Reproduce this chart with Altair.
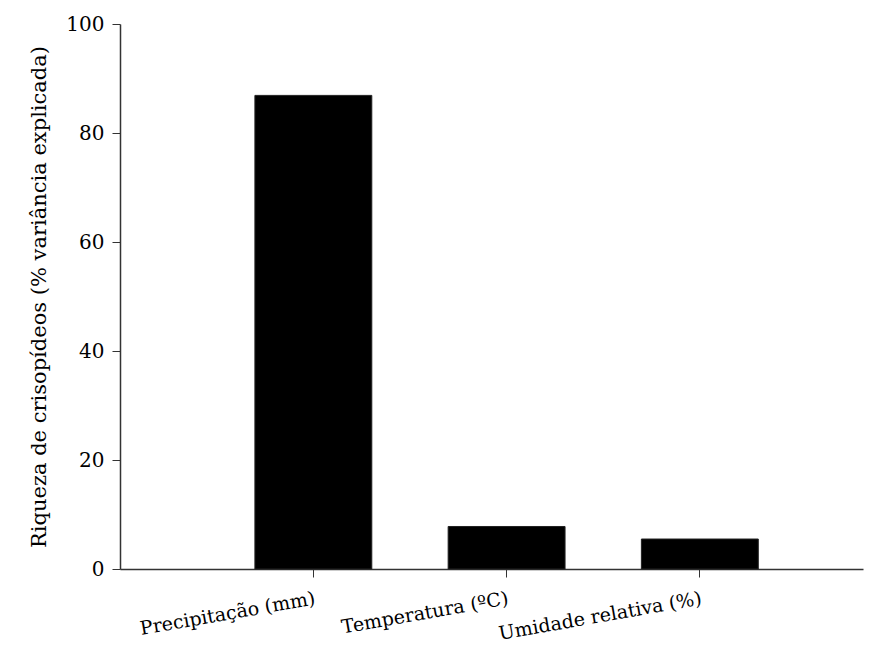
import altair as alt
import pandas as pd

categories = ["Precipitação (mm)", "Temperatura (ºC)", "Umidade relativa (%)"]
values = [86.9, 7.8, 5.5]

df = pd.DataFrame({"cat": categories, "val": values})

FONT = "DejaVu Serif"

chart = alt.Chart(df).mark_bar(color="black", stroke="#222222", strokeWidth=1).encode(
    x=alt.X("cat:N", sort=categories, title=None,
            scale=alt.Scale(paddingInner=0.395, paddingOuter=0.62, align=0.563),
            axis=alt.Axis(labelAngle=350, labelAlign="right", labelBaseline="top",
                          labelPadding=12, labelFontSize=19, labelFont=FONT,
                          labelColor="black", tickColor="#333333", tickSize=8,
                          domainColor="#333333", domainWidth=1.5, labelLimit=400)),
    y=alt.Y("val:Q", title="Riqueza de crisopídeos (% variância explicada)",
            scale=alt.Scale(domain=[0, 100], nice=False),
            axis=alt.Axis(values=[0, 20, 40, 60, 80, 100], grid=False,
                          labelFontSize=20, labelColor="black", labelFont=FONT,
                          labelPadding=8, tickSize=8, tickColor="#333333",
                          domainColor="#333333", domainWidth=1.5,
                          titleFont=FONT,
                          titleFontSize=21, titleFontWeight="normal",
                          titleColor="black", titlePadding=16)),
).properties(
    width=743, height=545,
    padding={"left": 20, "top": 6, "right": 5, "bottom": 5},
).configure_view(stroke="transparent")

chart.save("out.html", embed_options={"renderer": "svg", "actions": False})
